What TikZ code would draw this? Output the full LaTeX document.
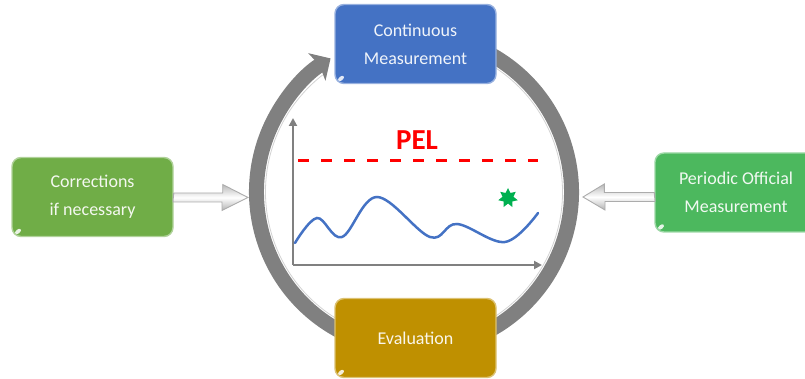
\documentclass[tikz,border=0pt]{standalone}
\usepackage{fontspec}
\setmainfont{Carlito}
\usetikzlibrary{arrows.meta,shapes.geometric,calc}
\definecolor{cmblue}{HTML}{4472C4}
\definecolor{evgold}{HTML}{BF9000}
\definecolor{corgreen}{HTML}{70AD47}
\definecolor{pomgreen}{HTML}{4CB85E}
\definecolor{ringgray}{HTML}{808080}
\definecolor{pelred}{HTML}{FF0000}
\definecolor{curveblue}{HTML}{4472C4}
\definecolor{stargreen}{HTML}{00B050}

\begin{document}
\begin{tikzpicture}[x=1pt,y=1pt,
  box/.style={draw=#1!55!white, line width=1.4pt, fill=#1, rounded corners=9pt,
    minimum width=161pt, minimum height=79pt, text=white!92!#1,
    font=\fontsize{18}{28}\selectfont, align=center, inner sep=0pt,
    path picture={\fill[white,opacity=0.85]
      ([xshift=6pt,yshift=5pt]path picture bounding box.south west)
      ellipse [x radius=3.5pt, y radius=2pt, rotate=40];}},
  ring/.style={draw=ringgray, line width=15pt},
  ringlight/.style={draw=gray!35, line width=0.8pt},
  axisline/.style={draw=ringgray, line width=2pt, -{Triangle[width=8pt,length=8pt]}},
  sidearrow/.style={draw=gray!65, line width=0.9pt, top color=gray!55,
    bottom color=gray!60, middle color=white},
]
\useasboundingbox (0,0) rectangle (805,379);
\clip (0,0) rectangle (805,379);

% cycle ring
\coordinate (ctr) at (414,187);
\draw[ringlight] (ctr) ++(245:148.5) arc[start angle=245, end angle=128, radius=148.5];
\draw[ringlight] (ctr) ++(62:148.5) arc[start angle=62, end angle=-62, radius=148.5];
\draw[ring, -{Stealth[width=32pt,length=16pt,inset=3pt]}]
  (ctr) ++(245:157.5) arc[start angle=245, end angle=122, radius=157.5];
\draw[ring] (ctr) ++(62:157.5) arc[start angle=62, end angle=-62, radius=157.5];

% boxes
\node[box=cmblue] (cm) at (415.5,335) {Continuous\\Measurement};
\node[box=evgold] (ev) at (415.5,41) {Evaluation};
\node[box=corgreen] (corr) at (92.5,182) {Corrections\\if necessary};
\node[box=pomgreen, minimum width=162pt] (pom) at (736,186.5) {Periodic Official\\Measurement};

% side arrows
\coordinate (ltip) at (248,181.5);
\coordinate (rtip) at (583,182);
\path[sidearrow] (corr.east |- ltip) ++(0,4.5) -- ++(49,0) -- ++(0,8.5)
  -- (ltip) -- ++(-26,-13) -- ++(0,8.5) -- ++(-49,0) -- cycle;
\path[sidearrow] (pom.west |- rtip) ++(0,4.5) -- ++(-50,0) -- ++(0,8.5)
  -- (rtip) -- ++(22,-13) -- ++(0,8.5) -- ++(50,0) -- cycle;

% chart
\coordinate (o) at (293,114);
\coordinate (ytop) at (293,261);
\coordinate (xend) at (542,114);
\draw[axisline] (o) -- (ytop);
\draw[axisline] (o) -- (xend);
\coordinate (pelL) at (298,218);
\coordinate (pelR) at (538,218);
\draw[pelred, line width=3pt, dash pattern=on 11pt off 12pt] (pelL) -- (pelR);
\node[font=\fontsize{29}{29}\selectfont\bfseries, text=pelred] (pel) at (417,239) {PEL};
\draw[curveblue, line width=2.5pt, line cap=round] plot[smooth, tension=0.6] coordinates
  {(295,136) (317,161) (342,142) (377,182) (430,142) (457,155) (505,137) (538,166)};
\node[star, star points=7, star point ratio=1.8, minimum size=20pt, fill=stargreen,
  inner sep=0pt] (mark) at (508,181) {};
\end{tikzpicture}
\end{document}
